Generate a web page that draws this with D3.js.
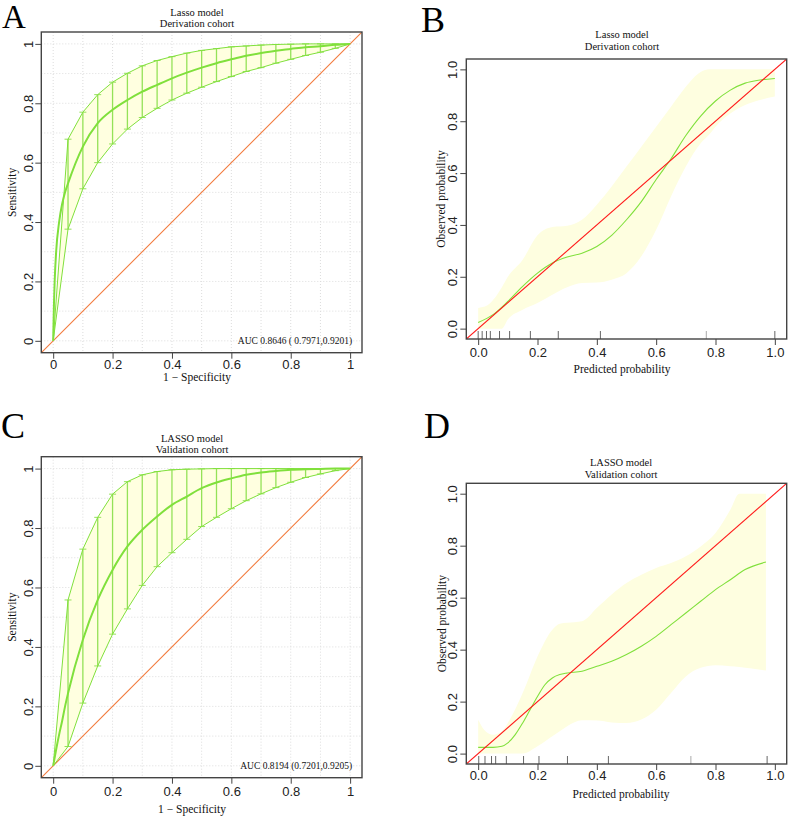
<!DOCTYPE html>
<html><head><meta charset="utf-8">
<script src="https://cdn.jsdelivr.net/npm/d3@7"></script>
<style>body{margin:0;background:#fff}svg{display:block}</style>
</head><body>
<script>
// ---------- DATA ----------
const rocSteps = [0,0.05,0.1,0.15,0.2,0.25,0.3,0.35,0.4,0.45,0.5,0.55,0.6,0.65,0.7,0.75,0.8,0.85,0.9,0.95,1];
// Panel A (Derivation cohort)
const upperA = [0,0.679,0.770,0.829,0.871,0.901,0.926,0.944,0.957,0.969,0.978,0.984,0.990,0.993,0.996,0.998,0.999,1,1,1,1];
const lowerA = [0,0.376,0.512,0.600,0.663,0.713,0.752,0.783,0.811,0.834,0.854,0.873,0.890,0.907,0.920,0.935,0.948,0.961,0.972,0.985,1];
const meanXA = [0,0.0025,0.005,0.01,0.02,0.03,0.04,0.05,0.1,0.15,0.2,0.25,0.3,0.35,0.4,0.45,0.5,0.55,0.6,0.65,0.7,0.75,0.8,0.85,0.9,0.95,1];
const meanYA = [0,0.12,0.2,0.3,0.4,0.46,0.50,0.53,0.654,0.733,0.778,0.811,0.839,0.862,0.884,0.903,0.920,0.935,0.948,0.960,0.969,0.977,0.983,0.989,0.992,0.997,1];
const aucA = "AUC  0.8646 ( 0.7971,0.9201)";
// Panel C (Validation cohort)
const upperC = [0,0.558,0.729,0.836,0.914,0.956,0.979,0.990,0.996,0.998,0.999,1,1,1,1,1,1,1,1,1,1];
const lowerC = [0,0.065,0.211,0.336,0.443,0.528,0.607,0.670,0.717,0.762,0.805,0.836,0.865,0.892,0.915,0.936,0.954,0.970,0.982,0.993,1];
const meanXC = [0,0.01,0.02,0.03,0.04,0.05,0.1,0.15,0.2,0.25,0.3,0.35,0.4,0.45,0.5,0.55,0.6,0.65,0.7,0.75,0.8,0.85,0.9,0.95,1];
const meanYC = [0,0.055,0.105,0.15,0.2,0.244,0.424,0.558,0.659,0.738,0.794,0.839,0.878,0.906,0.934,0.953,0.967,0.979,0.987,0.992,0.996,0.998,0.999,1,1];
const aucC = "AUC 0.8194 (0.7201,0.9205)";
// Panel B calibration (Derivation)
const calXB = [0,0.05,0.1,0.15,0.2,0.25,0.3,0.35,0.4,0.45,0.5,0.55,0.6,0.65,0.7,0.75,0.8,0.85,0.9,0.95,1];
const calYB = [0.024,0.054,0.105,0.163,0.214,0.253,0.276,0.291,0.317,0.36,0.42,0.49,0.575,0.655,0.745,0.82,0.878,0.92,0.947,0.959,0.965];
const bandXB = [0,0.03,0.05,0.08,0.1,0.15,0.2,0.25,0.3,0.35,0.4,0.45,0.5,0.55,0.6,0.65,0.7,0.75,0.78,0.8,0.85,0.9,0.95,1];
const bandUB = [0.08,0.089,0.11,0.16,0.2,0.266,0.36,0.392,0.397,0.42,0.478,0.548,0.625,0.702,0.779,0.856,0.933,0.99,1,1,1,1,1,1];
const bandLB = [0,0,0,0,0.035,0.073,0.099,0.131,0.16,0.176,0.178,0.189,0.214,0.279,0.381,0.51,0.625,0.715,0.75,0.779,0.83,0.863,0.882,0.895];
const rugB = [0,0.0135,0.028,0.041,0.072,0.106,0.176,0.27,0.412,0.769,1.0];
// Panel D calibration (Validation)
const calXD = [0,0.05,0.08,0.1,0.125,0.15,0.175,0.2,0.225,0.25,0.275,0.3,0.35,0.4,0.45,0.5,0.55,0.6,0.65,0.7,0.75,0.8,0.85,0.9,0.97];
const calYD = [0.024,0.024,0.028,0.041,0.073,0.118,0.169,0.22,0.265,0.291,0.304,0.31,0.317,0.336,0.355,0.381,0.413,0.451,0.496,0.541,0.586,0.631,0.669,0.708,0.737];
const bandXD = [0,0.02,0.05,0.08,0.1,0.15,0.2,0.25,0.275,0.3,0.35,0.4,0.45,0.5,0.55,0.6,0.65,0.7,0.75,0.8,0.85,0.88,0.97];
const bandUD = [0.13,0.092,0.073,0.086,0.118,0.233,0.374,0.477,0.5,0.503,0.509,0.56,0.612,0.656,0.688,0.714,0.733,0.759,0.797,0.849,0.938,1,1];
const bandLD = [0,0,0,0,0,0,0.028,0.067,0.086,0.105,0.128,0.127,0.12,0.118,0.131,0.169,0.233,0.297,0.33,0.34,0.336,0.333,0.32];
const rugD = [0.002,0.023,0.045,0.059,0.095,0.153,0.205,0.301,0.439,0.717,0.974];

const rocTicks = [0,0.2,0.4,0.6,0.8,1];
const rocTickLabels = ["0","0.2","0.4","0.6","0.8","1"];
const calTicks = [0,0.2,0.4,0.6,0.8,1];
const calTickLabels = ["0.0","0.2","0.4","0.6","0.8","1.0"];

// ---------- STYLE ----------
const GREEN = "#80e03c", BAR = "#94e258", FILL = "#ffffe0", CALFILL = "#fefee0";
const SERIF = "'Liberation Serif','Times New Roman',serif";
const SANS = "'Liberation Sans',Arial,sans-serif";

const svg = d3.select("body").append("svg").attr("width",788).attr("height",817);

function frame(g, x, y, o){
  const id = "clip"+o.letter;
  svg.append("clipPath").attr("id",id).append("rect")
    .attr("x",o.L).attr("y",o.T).attr("width",o.R-o.L).attr("height",o.B-o.T);
  const ax = g.append("g").attr("transform",`translate(0,${o.B})`)
    .call(d3.axisBottom(x).tickValues(o.ticks).tickFormat((d,i)=>o.labels[i]).tickSize(6).tickPadding(0));
  ax.select(".domain").remove();
  ax.selectAll("line").attr("stroke","#444");
  ax.selectAll("text").attr("y",o.xlabGap).attr("dy",null).attr("font-family",SANS).attr("font-size",13).attr("fill","#222");
  const ay = g.append("g").attr("transform",`translate(${o.L},0)`)
    .call(d3.axisLeft(y).tickValues(o.ticks).tickFormat((d,i)=>o.labels[i]).tickSize(6));
  ay.select(".domain").remove();
  ay.selectAll("line").attr("stroke","#444");
  ay.selectAll("text").attr("x",null).attr("dy",null)
    .attr("transform",`translate(${-o.ylabGap},0) rotate(-90)`)
    .attr("text-anchor","middle").attr("font-family",SANS).attr("font-size",13).attr("fill","#222");
  g.append("text").attr("x",o.tx).attr("y",o.t1).attr("text-anchor","middle")
    .attr("font-family",SERIF).attr("font-size",10.5).attr("fill","#111").text(o.title1);
  g.append("text").attr("x",o.tx).attr("y",o.t2).attr("text-anchor","middle")
    .attr("font-family",SERIF).attr("font-size",10.5).attr("fill","#111").text(o.title2);
  g.append("text").attr("x",o.tx).attr("y",o.xt).attr("text-anchor","middle")
    .attr("font-family",SERIF).attr("font-size",11.5).attr("fill","#111").text(o.xtitle);
  g.append("text").attr("transform",`translate(${o.yt},${(o.T+o.B)/2}) rotate(-90)`).attr("text-anchor","middle")
    .attr("font-family",SERIF).attr("font-size",11.5).attr("fill","#111").text(o.ytitle);
  g.append("text").attr("x",o.lx).attr("y",o.ly)
    .attr("font-family",SERIF).attr("font-size",o.ls).attr("fill","#000").text(o.letter);
  return "url(#"+id+")";
}

function box(g,o){
  g.append("rect").attr("x",o.L).attr("y",o.T).attr("width",o.R-o.L).attr("height",o.B-o.T)
    .attr("fill","none").attr("stroke","#444").attr("stroke-width",1.4);
}

function rocPanel(o, upper, lower, mx, my, auc){
  const g = svg.append("g");
  const x = d3.scaleLinear().domain([-0.04,1.04]).range([o.L,o.R]);
  const y = d3.scaleLinear().domain([-0.04,1.04]).range([o.B,o.T]);
  o.ticks = rocTicks; o.labels = rocTickLabels;
  const clip = frame(g,x,y,o);
  const pg = g.append("g").attr("clip-path",clip);
  const gv = d3.range(0,11).map(i=>i/10);
  pg.selectAll(".gx").data(gv).join("line").attr("x1",d=>x(d)).attr("x2",d=>x(d)).attr("y1",o.T).attr("y2",o.B)
    .attr("stroke","#dcdcdc").attr("stroke-dasharray","1,2");
  pg.selectAll(".gy").data(gv).join("line").attr("y1",d=>y(d)).attr("y2",d=>y(d)).attr("x1",o.L).attr("x2",o.R)
    .attr("stroke","#dcdcdc").attr("stroke-dasharray","1,2");
  const area = d3.area().x((d,i)=>x(rocSteps[i])).y0((d,i)=>y(lower[i])).y1(d=>y(d));
  pg.append("path").attr("d",area(upper)).attr("fill",FILL);
  pg.append("line").attr("x1",x(-0.04)).attr("y1",y(-0.04)).attr("x2",x(1.04)).attr("y2",y(1.04))
    .attr("stroke","#f27a3c").attr("stroke-width",1.1);
  const idx = d3.range(1,rocSteps.length-1);
  pg.selectAll(".bar").data(idx).join("line").attr("x1",i=>x(rocSteps[i])).attr("x2",i=>x(rocSteps[i]))
    .attr("y1",i=>y(lower[i])).attr("y2",i=>y(upper[i])).attr("stroke",BAR).attr("stroke-width",1.3);
  const cap = 3.5;
  [upper,lower].forEach(arr=>{
    pg.selectAll(null).data(idx).join("line").attr("x1",i=>x(rocSteps[i])-cap).attr("x2",i=>x(rocSteps[i])+cap)
      .attr("y1",i=>y(arr[i])).attr("y2",i=>y(arr[i])).attr("stroke",BAR).attr("stroke-width",1);
  });
  const ln = d3.line().x((d,i)=>x(rocSteps[i])).y(d=>y(d));
  pg.append("path").attr("d",ln(upper)).attr("fill","none").attr("stroke",GREEN).attr("stroke-width",1);
  pg.append("path").attr("d",ln(lower)).attr("fill","none").attr("stroke",GREEN).attr("stroke-width",1);
  const ml = d3.line().x((d,i)=>x(mx[i])).y(d=>y(d)).curve(d3.curveMonotoneX);
  pg.append("path").attr("d",ml(my)).attr("fill","none").attr("stroke",GREEN).attr("stroke-width",2);
  box(g,o);
  g.append("text").attr("x",x(1)+2).attr("y",y(0)+3).attr("text-anchor","end")
    .attr("font-family",SERIF).attr("font-size",9.5).attr("fill","#111").text(auc);
}

function calPanel(o, cx, cy, bx, bu, bl, rug){
  const g = svg.append("g");
  const x = d3.scaleLinear().domain([-0.04,1.04]).range([o.L,o.R]);
  const y = d3.scaleLinear().domain([-0.04,1.04]).range([o.B,o.T]);
  o.ticks = calTicks; o.labels = calTickLabels;
  const clip = frame(g,x,y,o);
  const pg = g.append("g").attr("clip-path",clip);
  const area = d3.area().x((d,i)=>x(bx[i])).y0((d,i)=>y(bl[i])).y1(d=>y(d)).curve(d3.curveMonotoneX);
  pg.append("path").attr("d",area(bu)).attr("fill",CALFILL);
  const ml = d3.line().x((d,i)=>x(cx[i])).y(d=>y(d)).curve(d3.curveMonotoneX);
  pg.append("path").attr("d",ml(cy)).attr("fill","none").attr("stroke",GREEN).attr("stroke-width",1.1);
  pg.append("line").attr("x1",x(-0.04)).attr("y1",y(-0.04)).attr("x2",x(1.04)).attr("y2",y(1.04))
    .attr("stroke","#ff1a1a").attr("stroke-width",1.1);
  pg.selectAll(".rug").data(rug).join("line").attr("x1",d=>x(d)).attr("x2",d=>x(d))
    .attr("y1",o.B).attr("y2",o.B-8).attr("stroke",(d,i)=>i===9?"#aaa":"#666").attr("stroke-width",1);
  box(g,o);
}

rocPanel({letter:"A",L:41.3,R:362,T:32,B:352.7,tx:197,t1:15.7,t2:27,xt:381,yt:16,lx:2,ly:28,ls:33,xlabGap:16.5,ylabGap:8,
  title1:"Lasso model",title2:"Derivation cohort",xtitle:"1 − Specificity",ytitle:"Sensitivity"},
  upperA, lowerA, meanXA, meanYA, aucA);
calPanel({letter:"B",L:466.3,R:786.7,T:59,B:339,tx:622,t1:38.3,t2:50,xt:373.3,yt:445,lx:421,ly:32,ls:36,xlabGap:18,ylabGap:9,
  title1:"Lasso model",title2:"Derivation cohort",xtitle:"Predicted probability",ytitle:"Observed probability"},
  calXB, calYB, bandXB, bandUB, bandLB, rugB);
rocPanel({letter:"C",L:41.3,R:362,T:456.7,B:777.7,tx:192,t1:441.7,t2:453.3,xt:812.7,yt:16,lx:1,ly:438,ls:36,xlabGap:18,ylabGap:8,
  title1:"LASSO model",title2:"Validation cohort",xtitle:"1 − Specificity",ytitle:"Sensitivity"},
  upperC, lowerC, meanXC, meanYC, aucC);
calPanel({letter:"D",L:466.3,R:786.7,T:483.3,B:764,tx:621,t1:465.7,t2:477.7,xt:797.7,yt:446,lx:424,ly:438,ls:36,xlabGap:16,ylabGap:9,
  title1:"LASSO model",title2:"Validation cohort",xtitle:"Predicted probability",ytitle:"Observed probability"},
  calXD, calYD, bandXD, bandUD, bandLD, rugD);
</script>
</body></html>
